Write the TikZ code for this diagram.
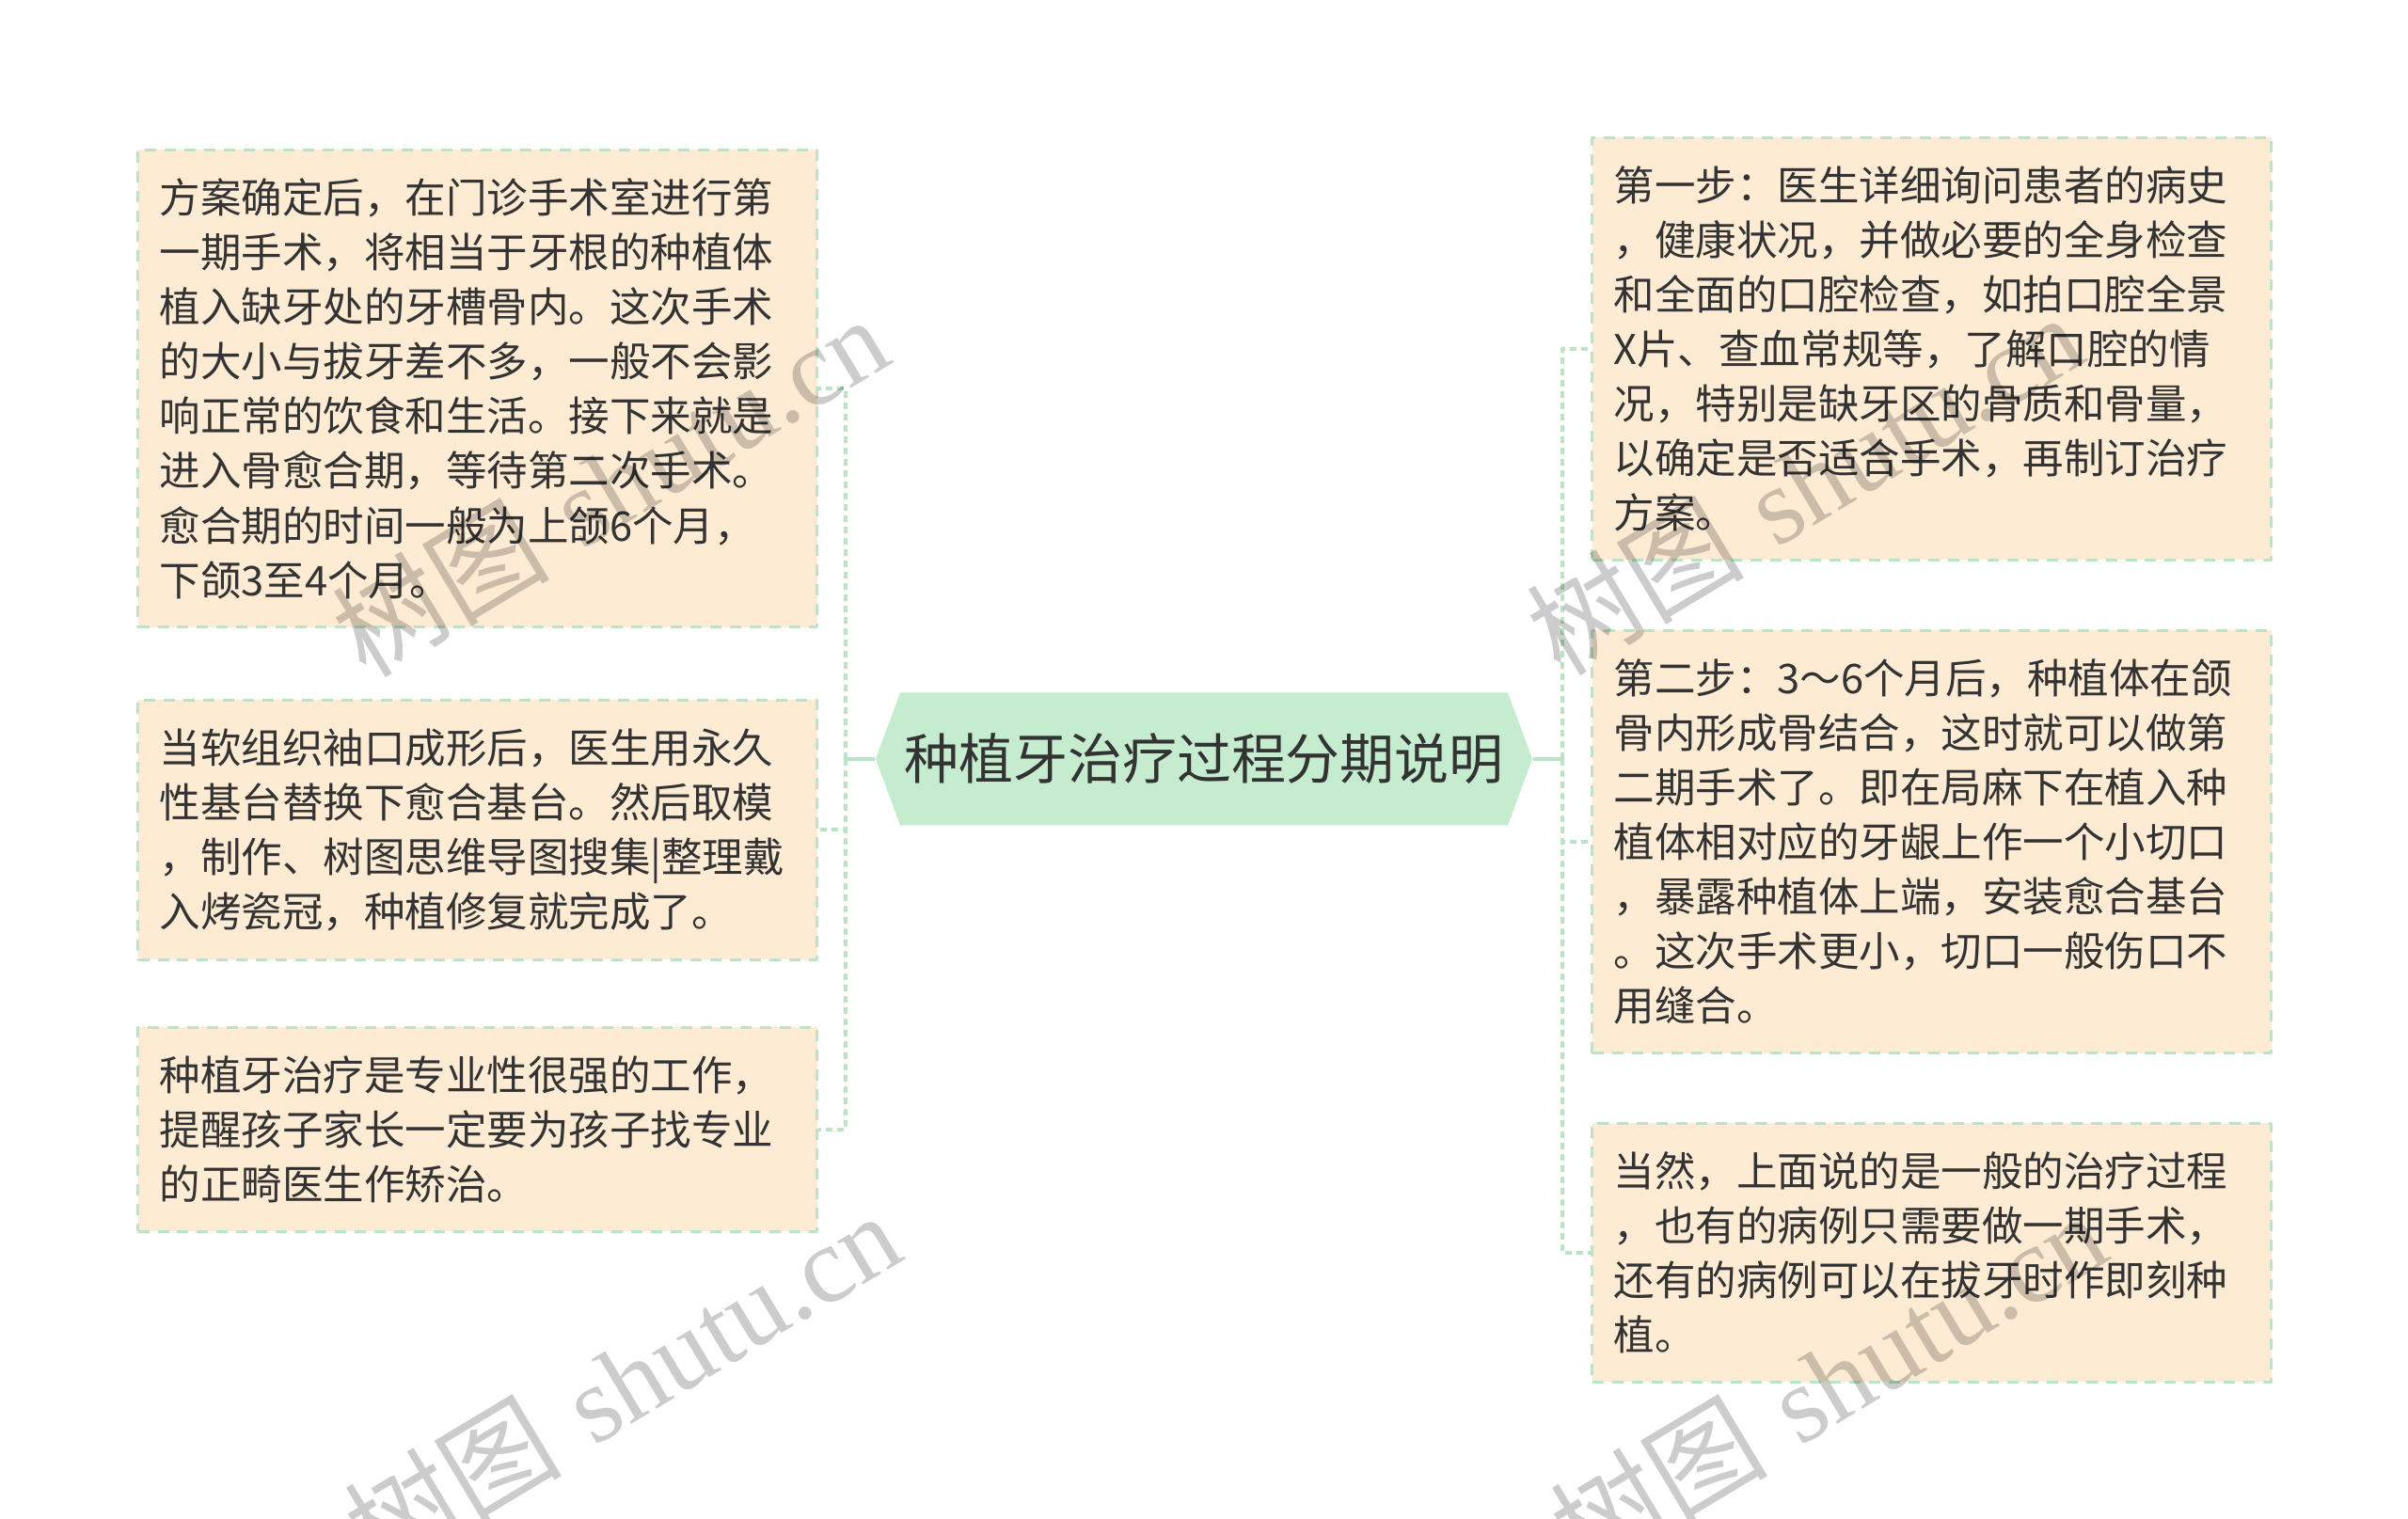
\documentclass[tikz,border=0pt]{standalone}
\usepackage{fontspec}
\usepackage{tikz}
\usetikzlibrary{calc}
\newfontfamily\cjk{Noto Sans CJK SC}
\newfontfamily\wmfont{Liberation Serif}
\definecolor{fdebd4}{RGB}{253,235,212}
\definecolor{bee6c8}{RGB}{186,228,197}
\definecolor{c7eccf}{RGB}{198,236,207}
\definecolor{sqsqsq}{RGB}{51,51,51}
\tikzstyle{every node}=[font=\cjk]
\tikzstyle{leaf}=[draw=bee6c8,line width=0.03cm,dash pattern=on 0.12cm off 0.09cm,fill=fdebd4,text=sqsqsq,text width=6.76cm,inner xsep=0.23cm,inner ysep=0.3cm,align=left,anchor=north west,font=\cjk\fontsize{12.38}{16.53}\selectfont]
\tikzstyle{topic}=[rectangle,minimum width=6.98cm,minimum height=1.41cm,inner sep=0pt,text=sqsqsq,font=\cjk\fontsize{16.5}{20}\selectfont,
    path picture={\fill[c7eccf] (path picture bounding box.west) -- ([xshift=0.26cm]path picture bounding box.north west) -- ([xshift=-0.26cm]path picture bounding box.north east) -- (path picture bounding box.east) -- ([xshift=-0.26cm]path picture bounding box.south east) -- ([xshift=0.26cm]path picture bounding box.south west) -- cycle;}]
\tikzstyle{stem}=[draw=bee6c8,line width=0.04cm]
\tikzstyle{branch}=[draw=bee6c8,line width=0.04cm,dash pattern=on 0.07cm off 0.05cm]
\tikzstyle{wmark}=[rotate=31,text=black,text opacity=0.2,font=\fontsize{33}{40}\selectfont]

\begin{document}
\begin{tikzpicture}[line join=round,x=1.0cm,y=1.0cm]
            \useasboundingbox (0,0) rectangle (25.6,16.15);
            \clip (0,0) rectangle (25.6,16.15);
            % central topic
            \node [topic] (root) at (12.80,8.08) {种植牙治疗过程分期说明};
            % left side
            \node [leaf] (lb1) at (1.45,14.57) {方案确定后，在门诊手术室进行第\\一期手术，将相当于牙根的种植体\\植入缺牙处的牙槽骨内。这次手术\\的大小与拔牙差不多，一般不会影\\响正常的饮食和生活。接下来就是\\进入骨愈合期，等待第二次手术。\\愈合期的时间一般为上颌6个月，\\下颌3至4个月。};
            \node [leaf] (lb2) at (1.45,8.72) {当软组织袖口成形后，医生用永久\\性基台替换下愈合基台。然后取模\\，制作、树图思维导图搜集|整理戴\\入烤瓷冠，种植修复就完成了。};
            \node [leaf] (lb3) at (1.45,5.24) {种植牙治疗是专业性很强的工作，\\提醒孩子家长一定要为孩子找专业\\的正畸医生作矫治。};
            % right side
            \node [leaf] (rb1) at (16.91,14.70) {第一步：医生详细询问患者的病史\\，健康状况，并做必要的全身检查\\和全面的口腔检查，如拍口腔全景\\X片、查血常规等，了解口腔的情\\况，特别是缺牙区的骨质和骨量，\\以确定是否适合手术，再制订治疗\\方案。};
            \node [leaf] (rb2) at (16.91,9.46) {第二步：3～6个月后，种植体在颌\\骨内形成骨结合，这时就可以做第\\二期手术了。即在局麻下在植入种\\植体相对应的牙龈上作一个小切口\\，暴露种植体上端，安装愈合基台\\。这次手术更小，切口一般伤口不\\用缝合。};
            \node [leaf] (rb3) at (16.91,4.22) {当然，上面说的是一般的治疗过程\\，也有的病例只需要做一期手术，\\还有的病例可以在拔牙时作即刻种\\植。};
            % connectors
            \coordinate (lt) at ($(root.west)+(-0.31,0)$);
            \coordinate (rt) at ($(root.east)+(0.31,0)$);
            \draw [stem] (root.west) -- (lt);
            \draw [stem] (root.east) -- (rt);
            \foreach \b in {lb1,lb2,lb3}
                \draw [branch] (lt) |- (\b.east);
            \foreach \b in {rb1,rb2,rb3}
                \draw [branch] (rt) |- (\b.west);
            % watermarks
            \node [wmark] (wm1) at (6.48,10.99) {{\cjk 树图} {\wmfont shutu.cn}};
            \node [wmark] (wm2) at (19.18,11.01) {{\cjk 树图} {\wmfont shutu.cn}};
            \node [wmark] (wm3) at (6.61,1.46) {{\cjk 树图} {\wmfont shutu.cn}};
            \node [wmark] (wm4) at (19.43,1.46) {{\cjk 树图} {\wmfont shutu.cn}};
\end{tikzpicture}
\end{document}
